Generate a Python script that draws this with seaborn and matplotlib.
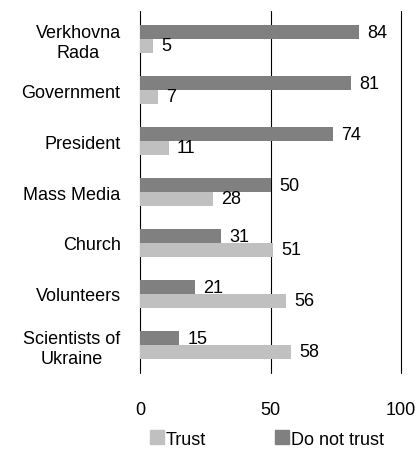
import pandas as pd
import seaborn as sns
import matplotlib.pyplot as plt
from matplotlib.patches import Patch

# data
institutions = ['Verkhovna\nRada', 'Government', 'President', 'Mass Media',
                'Church', 'Volunteers', 'Scientists of\nUkraine']
do_not_trust = [84, 81, 74, 50, 31, 21, 15]
trust = [5, 7, 11, 28, 51, 56, 58]

df = pd.DataFrame({
    'institution': institutions * 2,
    'value': do_not_trust + trust,
    'group': ['Do not trust'] * len(institutions) + ['Trust'] * len(institutions),
})

colors = {'Do not trust': '#808080', 'Trust': '#c0c0c0'}

sns.set_style('white')
plt.rcParams['font.family'] = ['Liberation Sans', 'DejaVu Sans']
plt.rcParams['text.color'] = 'black'
plt.rcParams['xtick.color'] = 'black'
plt.rcParams['ytick.color'] = 'black'

fig = plt.figure(figsize=(4.2, 4.56), dpi=100)
ax = fig.add_axes([140 / 420, 82 / 456, 261 / 420, 362 / 456])

sns.barplot(data=df, y='institution', x='value', hue='group',
            hue_order=['Do not trust', 'Trust'], palette=colors,
            orient='h', width=0.54, saturation=1, linewidth=0,
            ax=ax, legend=False)

for x in [0, 50, 100]:
    ax.axvline(x, color='black', lw=0.8, zorder=0, clip_on=False)

for cont in ax.containers:
    ax.bar_label(cont, fmt='%d', padding=6, fontsize=13, color='black')

ax.set_xlim(0, 100)
ax.set_xticks([0, 50, 100])
ax.set_ylim(6.55, -0.55)
ax.set_xlabel('')
ax.set_ylabel('')
for s in ax.spines.values():
    s.set_visible(False)
ax.tick_params(axis='x', labelsize=13, pad=20, length=0)
ax.tick_params(axis='y', labelsize=13, pad=14, length=0)
for lab in ax.get_yticklabels():
    lab.set_multialignment('center')

handles = [Patch(color=colors['Trust'], label='Trust'),
           Patch(color=colors['Do not trust'], label='Do not trust')]
fig.legend(handles=handles, loc='center', bbox_to_anchor=(0.635, 0.035),
           ncol=2, frameon=False, fontsize=13, handlelength=0.8,
           handleheight=0.8, handletextpad=0.1, columnspacing=3.8)

plt.savefig('out.png', dpi=100)
